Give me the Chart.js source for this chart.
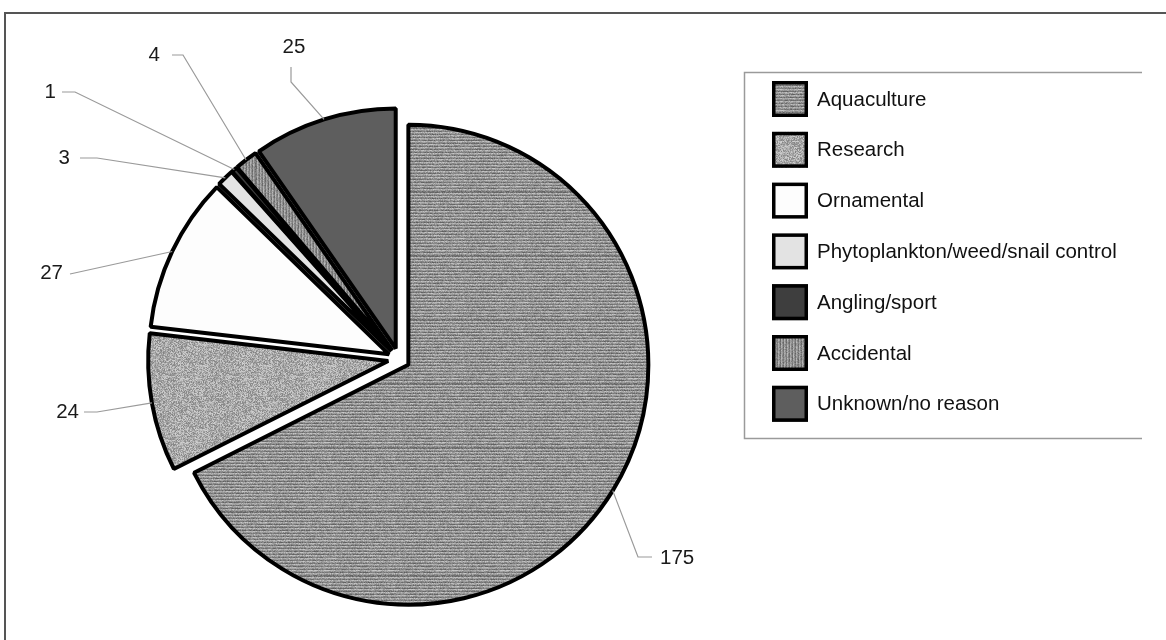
<!DOCTYPE html>
<html lang="en">
<head>
<meta charset="UTF-8" />
<title>Reasons for introduction</title>
<script src="https://cdn.jsdelivr.net/npm/chart.js"></script>
<style>
  body { margin: 0; background: #fff; font-family: "Liberation Sans", Arial, sans-serif; }
  #wrap { position: relative; width: 1166px; height: 640px; overflow: hidden; }
  #frame {
    position: absolute; left: 4px; top: 12px; width: 1200px; height: 700px;
    border-left: 2px solid #555; border-top: 2px solid #555;
  }
  canvas#pie { position: absolute; left: 0; top: 0; }
</style>
</head>
<body>
<div id="wrap">
  <div id="frame"></div>
  <canvas id="pie" width="1166" height="640"></canvas>
</div>
<script>
  const categories = [
    "Aquaculture", "Research", "Ornamental", "Phytoplankton/weed/snail control",
    "Angling/sport", "Accidental", "Unknown/no reason"
  ];
  const counts = [175, 24, 27, 3, 1, 4, 25];

  // where each value label sits, and the elbow of its leader line
  const labelSpots = [
    { at: [660, 558], align: "left",   path: [[652, 557], [638, 557]] },
    { at: [79, 412],  align: "right",  path: [[84, 412], [97, 412]] },
    { at: [63, 273],  align: "right",  path: [[70, 274]] },
    { at: [70, 158],  align: "right",  path: [[80, 158], [97, 158]] },
    { at: [56, 92],   align: "right",  path: [[62, 92], [75, 92]] },
    { at: [160, 55],  align: "right",  path: [[172, 55], [183, 55]] },
    { at: [294, 47],  align: "center", path: [[291, 67], [291, 82]] }
  ];

  const explode = 11; // px each slice is pulled out

  const canvas = document.getElementById("pie");
  const ctx = canvas.getContext("2d");

  function noise(x, y, s) {
    const v = Math.sin(x * 12.9898 + y * 78.233 + s * 37.719) * 43758.5453;
    return v - Math.floor(v);
  }

  // grey scan-like textures
  function texture(kind) {
    const c = document.createElement("canvas");
    c.width = c.height = 64;
    const g = c.getContext("2d");
    const img = g.createImageData(64, 64);
    for (let y = 0; y < 64; y++) {
      for (let x = 0; x < 64; x++) {
        const n = noise(x, y, kind.length);
        let v;
        if (kind === "lines") v = [118, 176, 150][y % 3] + (n - 0.5) * 50;
        else if (kind === "grain") v = 170 + (n - 0.5) * 80;
        else v = [118, 168, 142][x % 3] + (n - 0.5) * 40;
        const k = (y * 64 + x) * 4;
        img.data[k] = img.data[k + 1] = img.data[k + 2] = v;
        img.data[k + 3] = 255;
      }
    }
    g.putImageData(img, 0, 0);
    return ctx.createPattern(c, "repeat");
  }

  const fills = [
    texture("lines"), texture("grain"), "#fdfdfd", "#e3e3e3",
    "#3e3e3e", texture("stripes"), "#5e5e5e"
  ];

  const extras = {
    id: "extras",
    afterUpdate(chart) {
      // pull every slice out along its middle angle
      chart.getDatasetMeta(0).data.forEach(arc => {
        const mid = (arc.startAngle + arc.endAngle) / 2;
        arc.x += Math.cos(mid) * explode;
        arc.y += Math.sin(mid) * explode;
      });
    },
    afterDraw(chart) {
      const c = chart.ctx;
      const meta = chart.getDatasetMeta(0);
      c.save();
      c.font = '20.5px "Liberation Sans", Arial, sans-serif';
      c.textBaseline = "middle";

      // value labels with leader lines
      meta.data.forEach((arc, i) => {
        const mid = (arc.startAngle + arc.endAngle) / 2;
        const ax = arc.x + Math.cos(mid) * arc.outerRadius;
        const ay = arc.y + Math.sin(mid) * arc.outerRadius;
        const spot = labelSpots[i];
        c.strokeStyle = "#9a9a9a";
        c.lineWidth = 1.2;
        c.beginPath();
        c.moveTo(spot.path[0][0], spot.path[0][1]);
        spot.path.slice(1).forEach(pt => c.lineTo(pt[0], pt[1]));
        c.lineTo(ax, ay);
        c.stroke();
        c.fillStyle = "#1a1a1a";
        c.textAlign = spot.align;
        c.fillText(String(counts[i]), spot.at[0], spot.at[1]);
      });

      // legend box
      c.strokeStyle = "#9a9a9a";
      c.lineWidth = 1.5;
      c.beginPath();
      c.moveTo(1142, 72.5);
      c.lineTo(744.5, 72.5);
      c.lineTo(744.5, 438.5);
      c.lineTo(1142, 438.5);
      c.stroke();

      categories.forEach((name, i) => {
        const y = 99 + i * 50.8;
        c.fillStyle = fills[i];
        c.fillRect(772, y - 18, 36, 36);
        c.strokeStyle = "#000";
        c.lineWidth = 3.5;
        c.strokeRect(773.75, y - 16.25, 32.5, 32.5);
        c.fillStyle = "#111";
        c.textAlign = "left";
        c.fillText(name, 817, y + 1);
      });
      c.restore();
    }
  };

  new Chart(ctx, {
    type: "pie",
    data: {
      labels: categories,
      datasets: [{
        data: counts,
        backgroundColor: fills,
        borderColor: "#000",
        borderWidth: 4,
        hoverOffset: 0
      }]
    },
    options: {
      responsive: false,
      animation: false,
      events: [],
      radius: 240,
      layout: { padding: { left: 0, right: 368, top: 78, bottom: 0 } },
      plugins: { legend: { display: false }, tooltip: { enabled: false } }
    },
    plugins: [extras]
  });
</script>
</body>
</html>
